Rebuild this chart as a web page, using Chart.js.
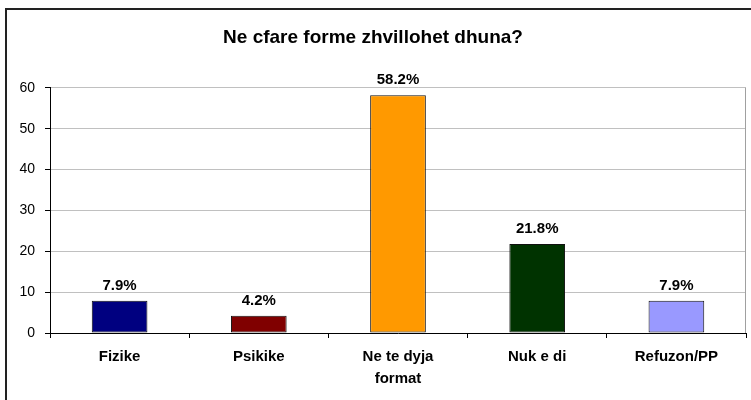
<!DOCTYPE html>
<html lang="sq">
<head>
    <meta charset="UTF-8">
    <meta name="viewport" content="width=device-width, initial-scale=1.0">
    <style>
        body {
            margin: 0;
            padding: 0;
            background: #ffffff;
            font-family: "Liberation Sans", Arial, sans-serif;
            overflow: hidden;
        }

        .frame {
            position: absolute;
            left: 5px;
            top: 8px;
            width: 800px;
            height: 500px;
            border: 2px solid #222;
        }

        .chart-container {
            position: absolute;
            left: 0;
            top: 0;
            width: 751px;
            height: 400px;
        }
    </style>
    <script src="https://cdn.jsdelivr.net/npm/chart.js"></script>
</head>
<body>
    <div class="frame"></div>
    <div class="chart-container">
        <canvas id="dhunaChart" width="751" height="400"></canvas>
    </div>

    <script>
        const chartTitle = 'Ne cfare forme zhvillohet dhuna?';
        const categories = ['Fizike', 'Psikike', ['Ne te dyja', 'format'], 'Nuk e di', 'Refuzon/PP'];
        const values = [7.9, 4.2, 58.2, 21.8, 7.9];
        const barColors = ['#000080', '#800000', '#FF9900', '#003300', '#9999FF'];

        // percent labels above each bar + grey frame on the right side of the plot
        const barLabels = {
            id: 'barLabels',
            beforeDatasetsDraw(chart) {
                const { ctx, chartArea } = chart;
                ctx.save();
                ctx.strokeStyle = '#a0a0a0';
                ctx.lineWidth = 1;
                ctx.beginPath();
                ctx.moveTo(chartArea.right - 0.5, chartArea.top);
                ctx.lineTo(chartArea.right - 0.5, chartArea.bottom);
                ctx.stroke();
                ctx.restore();
            },
            afterDatasetsDraw(chart) {
                const { ctx } = chart;
                const meta = chart.getDatasetMeta(0);
                ctx.save();
                ctx.font = 'bold 15px "Liberation Sans", Arial, sans-serif';
                ctx.fillStyle = '#000';
                ctx.textAlign = 'center';
                ctx.textBaseline = 'middle';
                meta.data.forEach(function (bar, i) {
                    ctx.fillText(values[i].toFixed(1) + '%', bar.x, bar.y - 15);
                });
                ctx.restore();
            }
        };

        document.addEventListener("DOMContentLoaded", function () {
            const ctx = document.getElementById('dhunaChart').getContext('2d');

            const config = {
                type: 'bar',
                data: {
                    labels: categories,
                    datasets: [{
                        data: values,
                        backgroundColor: barColors,
                        borderColor: '#111',
                        borderWidth: 1,
                        borderSkipped: false,
                        barPercentage: 0.4,
                        categoryPercentage: 1.0
                    }]
                },
                options: {
                    responsive: false,
                    animation: false,
                    layout: {
                        padding: { left: 0, right: 5, top: 0, bottom: 0 }
                    },
                    plugins: {
                        legend: { display: false },
                        tooltip: { enabled: false },
                        title: {
                            display: true,
                            text: chartTitle,
                            color: '#000',
                            font: { family: '"Liberation Sans", Arial, sans-serif', size: 19, weight: 'bold' },
                            padding: { top: 26, bottom: 39 }
                        }
                    },
                    scales: {
                        x: {
                            grid: {
                                offset: true,
                                drawOnChartArea: false,
                                tickLength: 5,
                                tickColor: '#000'
                            },
                            border: { color: '#000', width: 1 },
                            ticks: {
                                color: '#000',
                                padding: 8,
                                maxRotation: 0,
                                font: { family: '"Liberation Sans", Arial, sans-serif', size: 15, weight: 'bold', lineHeight: 1.45 }
                            },
                            afterFit: function (scale) { scale.height = 67; }
                        },
                        y: {
                            min: 0,
                            max: 60,
                            ticks: {
                                stepSize: 10,
                                color: '#000',
                                padding: 10,
                                font: { family: '"Liberation Sans", Arial, sans-serif', size: 14 }
                            },
                            grid: {
                                color: '#c0c0c0',
                                tickColor: '#000',
                                tickLength: 5
                            },
                            border: { color: '#000', width: 1 },
                            afterFit: function (scale) { scale.width = 50; }
                        }
                    }
                },
                plugins: [barLabels]
            };

            try {
                new Chart(ctx, config);
            } catch (error) {
                console.error("Error creating the chart:", error);
            }
        });
    </script>
</body>
</html>
